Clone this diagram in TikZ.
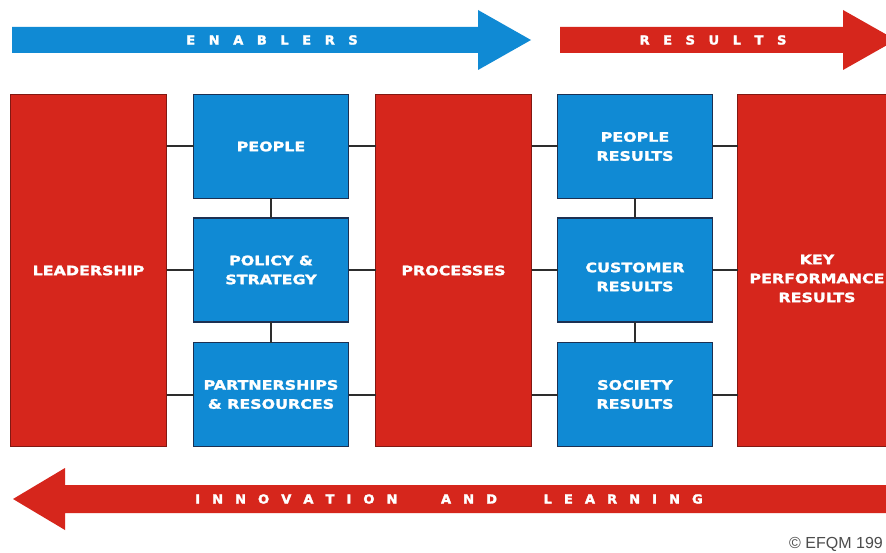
\documentclass[tikz,border=0pt]{standalone}
\usepackage{fontspec}
\newfontfamily\boxfont{DejaVu Sans Bold}[FakeStretch=1.22,FakeBold=1.8]
\newfontfamily\bandfont{DejaVu Sans Bold}[FakeStretch=1.05,FakeBold=2.2]
\newfontfamily\notefont{Liberation Sans}

\definecolor{efred}{RGB}{214,38,28}
\definecolor{efredline}{RGB}{130,24,18}
\definecolor{efblue}{RGB}{16,138,212}
\definecolor{efblueline}{RGB}{28,48,82}
\definecolor{linkgray}{RGB}{45,45,45}

% letters of a word spread apart by a fixed gap
\makeatletter
\newcommand\spreadtext[2]{\@tfor\sp@c:=#2\do{\sp@c\kern#1}\unkern}
\makeatother

\begin{document}
\begin{tikzpicture}[x=1pt,y=-1pt,
  boxbase/.style={inner sep=0pt, outer sep=0pt, line width=1.3pt,
    text=white, align=center, font=\boxfont\fontsize{13}{19}\selectfont},
  redbox/.style={boxbase, fill=efred, draw=efredline,
    minimum height=352pt},
  bluebox/.style={boxbase, fill=efblue, draw=efblueline,
    minimum width=155pt, minimum height=104pt},
  boxtext/.style={text=white, align=center, inner sep=0pt,
    font=\boxfont\fontsize{13}{19}\selectfont},
  link/.style={draw=linkgray, line width=2pt},
  bandtext/.style={text=white, inner sep=0pt,
    font=\bandfont\fontsize{12.5}{13}\selectfont}]

\fill[white] (0,0) rectangle (886,553);
\useasboundingbox (0,0) rectangle (886,553);

% direction arrows
\fill[efblue] (12,27) -- (478,27) -- (478,10) -- (531,40) -- (478,70)
  -- (478,53) -- (12,53) -- cycle;
\fill[efred] (560,27) -- (843,27) -- (843,10) -- (896,40) -- (843,70)
  -- (843,53) -- (560,53) -- cycle;
\fill[efred] (13,499) -- (65,468) -- (65,485) -- (892,485) -- (892,513)
  -- (65,513) -- (65,530) -- cycle;

\node[bandtext] (enablers) at (272,40) {\spreadtext{13.5pt}{ENABLERS}};
\node[bandtext] (results) at (713,40) {\spreadtext{13.5pt}{RESULTS}};
\node[bandtext, anchor=west] (innov) at (195,499) {\spreadtext{12pt}{INNOVATION}};
\node[bandtext] (and) at (469,499) {\spreadtext{12pt}{AND}};
\node[bandtext, anchor=east] (learn) at (703,499) {\spreadtext{12pt}{LEARNING}};

% criteria boxes
\node[redbox, minimum width=156pt] (lead) at (88.5,270.5) {LEADERSHIP};
\node[bluebox] (people) at (271,146.5) {PEOPLE};
\node[bluebox] (policy) at (271,270) {POLICY \&\\STRATEGY};
\node[bluebox] (partner) at (271,394.5) {PARTNERSHIPS\\\& RESOURCES};
\node[redbox, minimum width=156pt] (proc) at (453.5,270.5) {PROCESSES};
\node[bluebox] (presults) at (635,146.5) {PEOPLE\\RESULTS};
\node[bluebox,
  label={[boxtext, yshift=-7pt]center:CUSTOMER\\RESULTS}] (cresults) at (635,270) {};
\node[bluebox] (sresults) at (635,394.5) {SOCIETY\\RESULTS};
\node[redbox, minimum width=159pt,
  label={[boxtext, yshift=-8pt]center:KEY\\PERFORMANCE\\RESULTS}] (kpr) at (817,270.5) {};

% links between the boxes
\foreach \b in {people,policy,partner}{
  \draw[link] (lead.east |- \b.west) -- (\b.west);
  \draw[link] (\b.east) -- (proc.west |- \b.east);
}
\foreach \b in {presults,cresults,sresults}{
  \draw[link] (proc.east |- \b.west) -- (\b.west);
  \draw[link] (\b.east) -- (kpr.west |- \b.east);
}
\draw[link] (people.south) -- (policy.north);
\draw[link] (policy.south) -- (partner.north);
\draw[link] (presults.south) -- (cresults.north);
\draw[link] (cresults.south) -- (sresults.north);

\node[anchor=west, inner sep=0pt, text=black!70,
  font=\notefont\fontsize{16}{17}\selectfont] (copy) at (789,544) {© EFQM 199};
\end{tikzpicture}
\end{document}
